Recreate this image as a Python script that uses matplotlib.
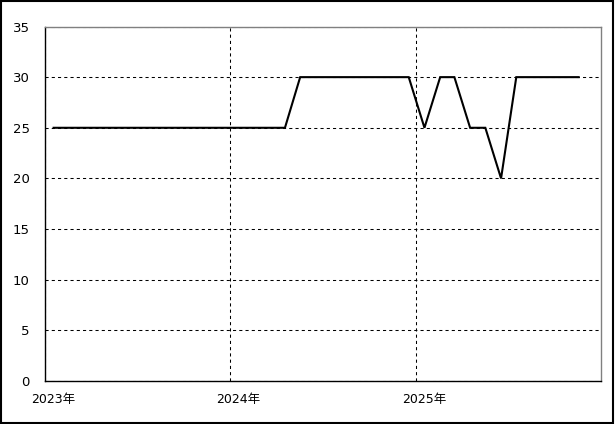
import matplotlib
matplotlib.use("Agg")
import matplotlib.pyplot as plt
import matplotlib.transforms as mtransforms
import pandas as pd

plt.rcParams['font.family'] = ['DejaVu Sans', 'Noto Sans CJK JP']

# monthly observations (mid-month), Jan 2023 - Nov 2025
dates = pd.date_range("2023-01-01", "2025-11-01", freq="MS") + pd.Timedelta(days=17)
values = ([25] * 16 +            # 2023-01 .. 2024-04
          [30] * 8 +             # 2024-05 .. 2024-12
          [25, 30, 30, 25, 25, 20, 30, 30, 30, 30, 30])  # 2025-01 .. 2025-11
year_ticks = ["2023-01-01", "2024-01-01", "2025-01-01"]
year_labels = ["2023年", "2024年", "2025年"]
y_ticks = [0, 5, 10, 15, 20, 25, 30, 35]

fig = plt.figure(figsize=(6.15, 4.24), dpi=100)
ax = fig.add_axes([45 / 615, 1 - 381 / 424, (601 - 45) / 615, (381 - 26.5) / 424])

ax.plot(dates, values, color="black", linewidth=1.5, solid_joinstyle="miter")

ax.set_xlim(pd.Timestamp("2023-01-01"), pd.Timestamp("2026-01-01"))
ax.set_ylim(0, 35)
ax.set_yticks(y_ticks)
ax.set_yticklabels([str(v) for v in y_ticks], fontsize=9.5)
ax.set_xticks([pd.Timestamp(t) for t in year_ticks])
ax.set_xticklabels(year_labels, fontsize=9)

ax.tick_params(axis="both", length=0, colors="black")
ax.tick_params(axis="y", pad=11)
ax.tick_params(axis="x", pad=9)
offset = mtransforms.ScaledTranslation(8 / 100, 0, fig.dpi_scale_trans)
for lab in ax.get_xticklabels():
    lab.set_transform(lab.get_transform() + offset)

ax.grid(True, color="black", linestyle=(0, (3, 3)), linewidth=0.75)
ax.set_axisbelow(True)

for s in ["left", "bottom"]:
    ax.spines[s].set_color("black")
    ax.spines[s].set_linewidth(1.0)
for s in ["top", "right"]:
    ax.spines[s].set_color("#808080")
    ax.spines[s].set_linewidth(1.0)

# outer frame of figure
fig.patches.append(plt.Rectangle((0.5 / 615, 1.5 / 424), 612.5 / 615, 421.5 / 424,
                                 transform=fig.transFigure, fill=False,
                                 edgecolor="black", linewidth=1.5))

fig.savefig("out.png", dpi=100)
